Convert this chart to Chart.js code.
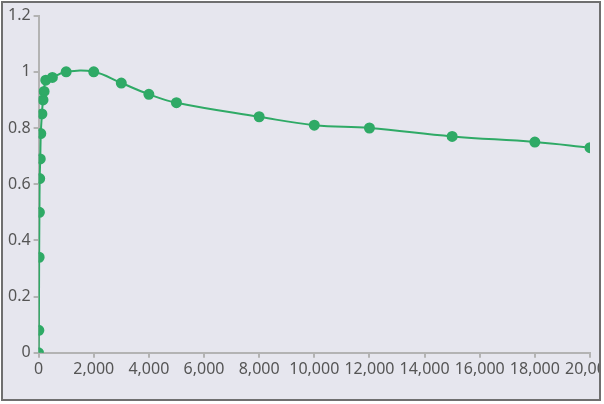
<!DOCTYPE html>
<html>
<head>
<meta charset="utf-8">
<script src="https://cdn.jsdelivr.net/npm/chart.js@4"></script>
<style>
  html, body { margin: 0; padding: 0; background: #ffffff; }
  #frame {
    position: absolute; left: 1px; top: 1px;
    width: 596px; height: 396px;
    border: 2px solid #6f6f6f;
    background: #e6e6ee;
    overflow: hidden;
  }
  #wrap { position: relative; width: 596px; height: 396px; }
</style>
</head>
<body>
<div id="frame"><div id="wrap"><canvas id="c"></canvas></div></div>
<script>
const xValues = [0, 10, 20, 30, 40, 60, 80, 120, 160, 200, 260, 500, 1000, 2000, 3000, 4000, 5000, 8000, 10000, 12000, 15000, 18000, 20000];
const yValues = [0, 0.08, 0.34, 0.50, 0.62, 0.69, 0.78, 0.85, 0.90, 0.93, 0.97, 0.98, 1.00, 1.00, 0.96, 0.92, 0.89, 0.84, 0.81, 0.80, 0.77, 0.75, 0.73];
const xTicks = [0, 2000, 4000, 6000, 8000, 10000, 12000, 14000, 16000, 18000, 20000];
const yTicks = [0, 0.2, 0.4, 0.6, 0.8, 1, 1.2];

const points = xValues.map((x, i) => ({ x: x, y: yValues[i] }));
const green = '#2faa66';
const axisGray = '#b3b3b3';
const textColor = '#555555';

new Chart(document.getElementById('c'), {
  type: 'scatter',
  data: {
    datasets: [{
      data: points,
      showLine: true,
      borderColor: green,
      backgroundColor: green,
      borderWidth: 2,
      pointRadius: 4.5,
      pointHoverRadius: 4.5,
      tension: 0.4
    }]
  },
  options: {
    responsive: true,
    maintainAspectRatio: false,
    animation: false,
    layout: { padding: { top: 12, right: 9, bottom: 18, left: 2 } },
    plugins: { legend: { display: false }, tooltip: { enabled: false } },
    scales: {
      x: {
        type: 'linear',
        min: 0, max: 20000,
        afterBuildTicks: (s) => { s.ticks = xTicks.map(v => ({ value: v })); },
        afterFit: (s) => { s.paddingRight = 0; },
        border: { display: true, color: axisGray, width: 2 },
        grid: { drawOnChartArea: false, drawTicks: true, tickLength: 5, color: axisGray, lineWidth: 2 },
        ticks: {
          color: textColor, padding: 2, maxRotation: 0, autoSkip: false,
          font: { family: 'Noto Sans', size: 16 },
          callback: (v) => v.toLocaleString('en-US')
        }
      },
      y: {
        min: 0, max: 1.2,
        afterBuildTicks: (s) => { s.ticks = yTicks.map(v => ({ value: v })); },
        border: { display: true, color: axisGray, width: 2 },
        grid: { drawOnChartArea: false, drawTicks: true, tickLength: 5, color: axisGray, lineWidth: 2 },
        ticks: {
          color: textColor, padding: 3,
          font: { family: 'Noto Sans', size: 16 },
          callback: (v) => String(v)
        }
      }
    }
  }
});
</script>
</body>
</html>
